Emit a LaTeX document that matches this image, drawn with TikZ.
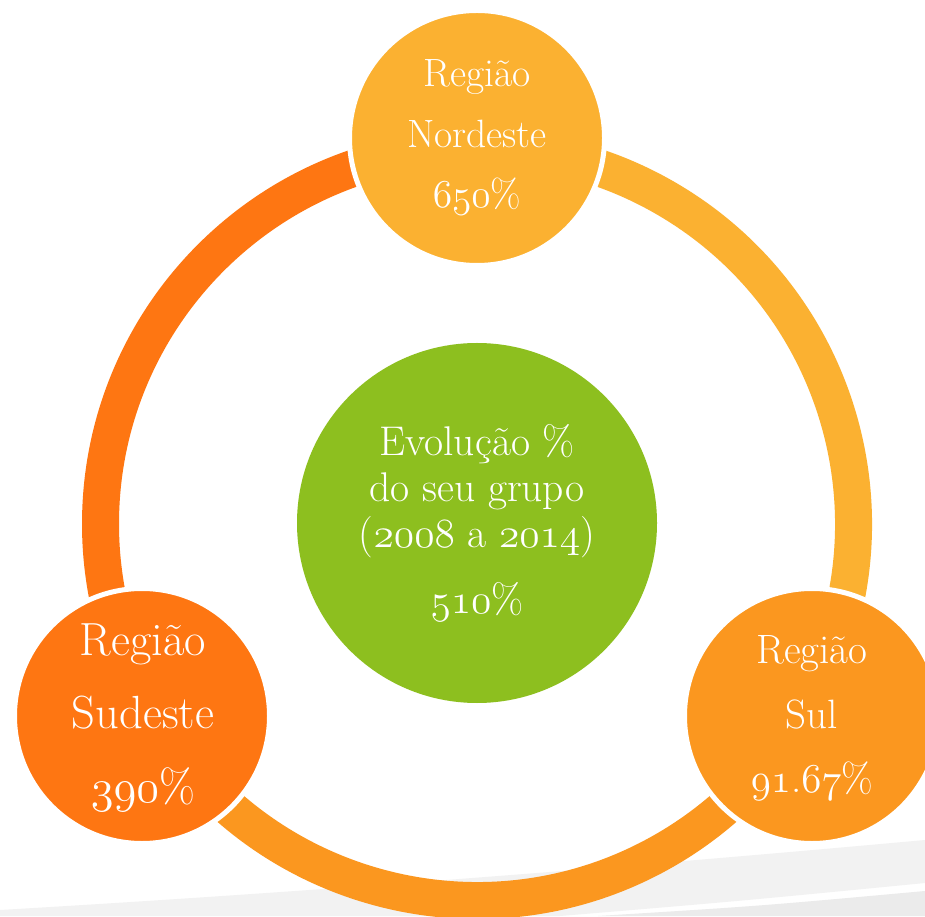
\RequirePackage{fix-cm}
\documentclass[tikz,border=0pt]{standalone}
\usepackage{fontspec}
\definecolor{cN}{HTML}{FBB131}
\definecolor{cS}{HTML}{FB971F}
\definecolor{cSE}{HTML}{FE7612}
\definecolor{cG}{HTML}{8DBF1F}
\definecolor{bandA}{HTML}{F2F2F2}
\definecolor{bandB}{HTML}{EBEBEB}
\newcommand\osf[1]{{\usefont{OML}{cmm}{m}{it}#1}}
\newcommand\fntN{\fontsize{39.5}{47}\selectfont}
\newcommand\fntS{\fontsize{41}{49}\selectfont}
\newcommand\fntSE{\fontsize{46.5}{55}\selectfont}
\newcommand\fntG{\fontsize{41.5}{50}\selectfont}
\tikzset{
  bubble/.style={circle, draw=white, line width=5pt, minimum size=255pt, inner sep=0pt},
  core/.style={circle, minimum size=360pt, inner sep=0pt, fill=cG},
  lbl/.style={text=white, anchor=base, inner sep=0pt, outer sep=0pt},
  ringarc/.style={line width=37pt}
}
\begin{document}
\begin{tikzpicture}[x=1pt,y=1pt]
\useasboundingbox (0,0) rectangle (925,916);
\clip (0,0) rectangle (925,916);
\fill[white] (0,0) rectangle (925,916);
% background bands
\fill[bandA] (0,6) .. controls (308,24) and (617,48) .. (925,76) -- (925,33)
   .. controls (740,15) .. (560,0) -- (0,0) -- cycle;
\fill[bandB] (925,25) .. controls (760,10) .. (598,0) -- (925,0) -- cycle;
% ring
\coordinate (C) at (477,392);
\draw[ringarc, draw=cSE] ([shift={(90:376.5)}]C) arc[start angle=90, end angle=209.8, radius=376.5];
\draw[ringarc, draw=cN] ([shift={(-29.8:376.5)}]C) arc[start angle=-29.8, end angle=90, radius=376.5];
\draw[ringarc, draw=cS] ([shift={(209.8:376.5)}]C) arc[start angle=209.8, end angle=330.2, radius=376.5];
% circles
\node[core] (centro) at (477,393) {};
\node[bubble, fill=cN] (nordeste) at (477,778) {};
\node[bubble, fill=cSE] (sudeste) at (142,200) {};
\node[bubble, fill=cS] (sul) at (812,200) {};
% texts
\node[lbl, font=\fntN] (n1) at (477,829) {Região};
\node[lbl, font=\fntN] (n2) at (477,768) {Nordeste};
\node[lbl, font=\fntN] (n3) at (477,708) {\osf{650}\%};
\node[lbl, font=\fntS] (s1) at (812,253) {Região};
\node[lbl, font=\fntS] (s2) at (812,188) {Sul};
\node[lbl, font=\fntS] (s3) at (812,124) {\osf{91}.\osf{67}\%};
\node[lbl, font=\fntSE] (e1) at (143,261) {Região};
\node[lbl, font=\fntSE] (e2) at (143,188) {Sudeste};
\node[lbl, font=\fntSE] (e3) at (143,114) {\osf{390}\%};
\node[lbl, font=\fntG] (g1) at (477,460) {Evolução \%};
\node[lbl, font=\fntG] (g2) at (477,414) {do seu grupo};
\node[lbl, font=\fntG] (g3) at (477,368) {(\osf{2008} a \osf{2014})};
\node[lbl, font=\fntG] (g4) at (477,303) {\osf{510}\%};
\end{tikzpicture}
\end{document}
